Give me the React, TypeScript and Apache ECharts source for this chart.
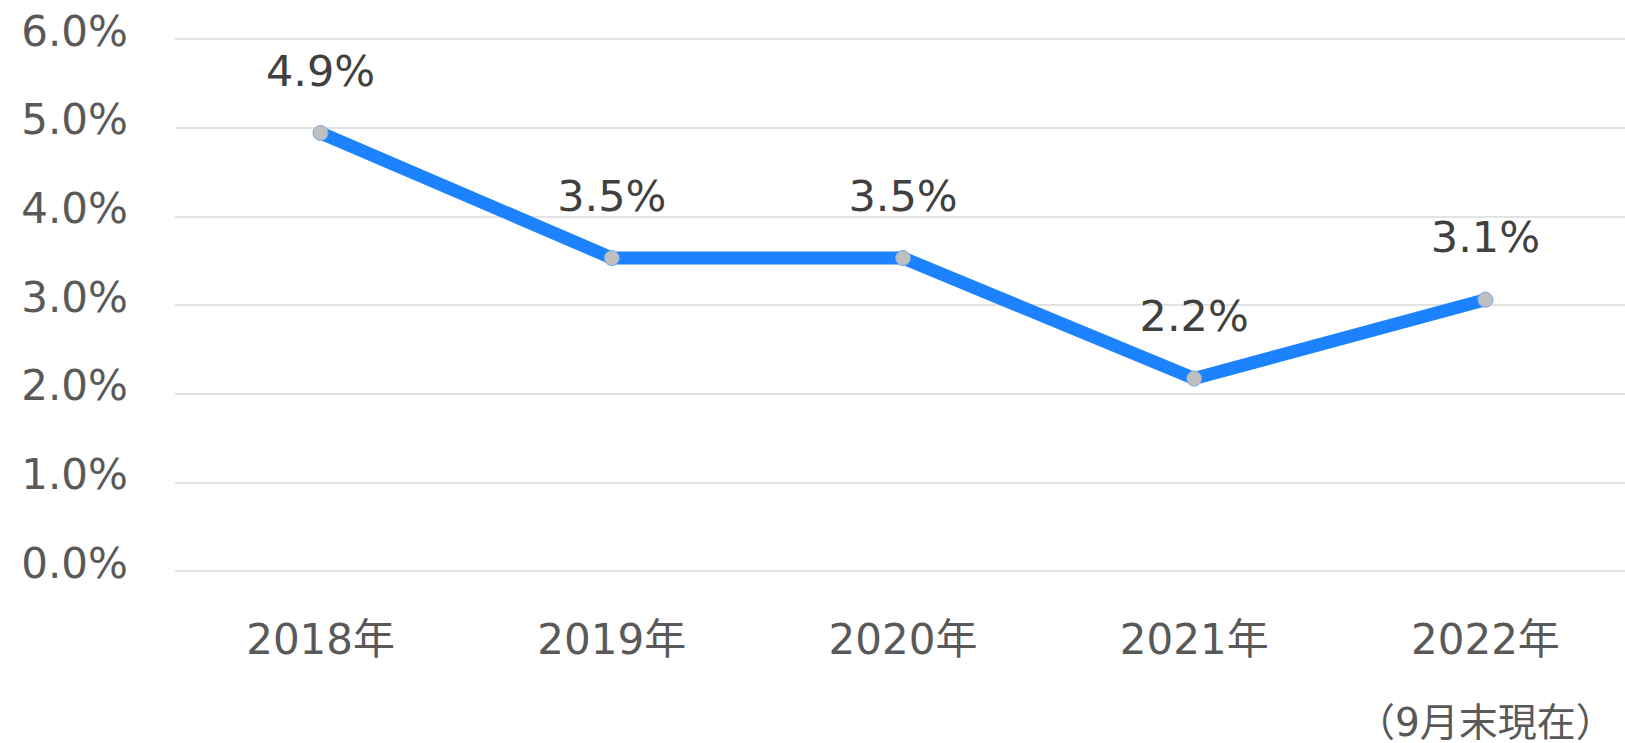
import React, { useEffect, useRef } from "react";
import * as echarts from "echarts";

const categories = ["2018年", "2019年", "2020年", "2021年", "2022年"];
const categoryNotes = ["", "", "", "", "（9月末現在）"];
const rateValues = [4.94, 3.53, 3.53, 2.17, 3.06];
const yTicks = { min: 0, max: 6, interval: 1 };

const FONT = "'DejaVu Sans', 'Noto Sans CJK JP', sans-serif";

export default function App() {
  const ref = useRef<HTMLDivElement>(null);
  useEffect(() => {
    if (!ref.current) return;
    const chart = echarts.init(ref.current, undefined, { renderer: "svg" });
    chart.setOption({
      animation: false,
      backgroundColor: "#ffffff",
      grid: {
        left: 175,
        right: -6,
        top: 39,
        bottom: 172,
        containLabel: false,
        outerBoundsMode: "none",
      },
      xAxis: {
        type: "category",
        data: categories,
        boundaryGap: true,
        axisLine: { show: false },
        axisTick: { show: false },
        axisLabel: {
          margin: 28,
          fontFamily: FONT,
          color: "#595959",
          formatter: (v: string, i: number) =>
            "{a|" + v + "}" + (categoryNotes[i] ? "\n{b|" + categoryNotes[i] + "}" : ""),
          rich: {
            a: { fontSize: 42, lineHeight: 80, fontFamily: FONT, color: "#595959" },
            b: { fontSize: 39, lineHeight: 86, fontFamily: FONT, color: "#595959" },
          },
        },
      },
      yAxis: {
        type: "value",
        min: yTicks.min,
        max: yTicks.max,
        interval: yTicks.interval,
        axisLine: { show: false },
        axisTick: { show: false },
        splitLine: { lineStyle: { color: "#d9d9d9", width: 1.5 } },
        axisLabel: {
          margin: 47,
          fontFamily: FONT,
          color: "#595959",
          formatter: (v: number) => "{v|" + v.toFixed(1) + "%}",
          rich: {
            v: {
              fontSize: 42,
              fontFamily: FONT,
              color: "#595959",
              lineHeight: 48,
              padding: [0, 0, 16, 0],
            },
          },
        },
      },
      series: [
        {
          type: "line",
          data: rateValues,
          lineStyle: { color: "#1c82fd", width: 13 },
          itemStyle: { color: "#bfbfbf", borderColor: "#6fa8e8", borderWidth: 1 },
          symbol: "circle",
          symbolSize: 15,
          label: {
            show: true,
            position: "top",
            distance: 33,
            fontSize: 43,
            fontFamily: FONT,
            color: "#404040",
            formatter: (p: any) => p.value.toFixed(1) + "%",
          },
        },
      ],
    });
    return () => chart.dispose();
  }, []);
  return (
    <div
      ref={ref}
      style={{ position: "fixed", left: 0, top: 0, width: 1625, height: 743, background: "#fff" }}
    />
  );
}
